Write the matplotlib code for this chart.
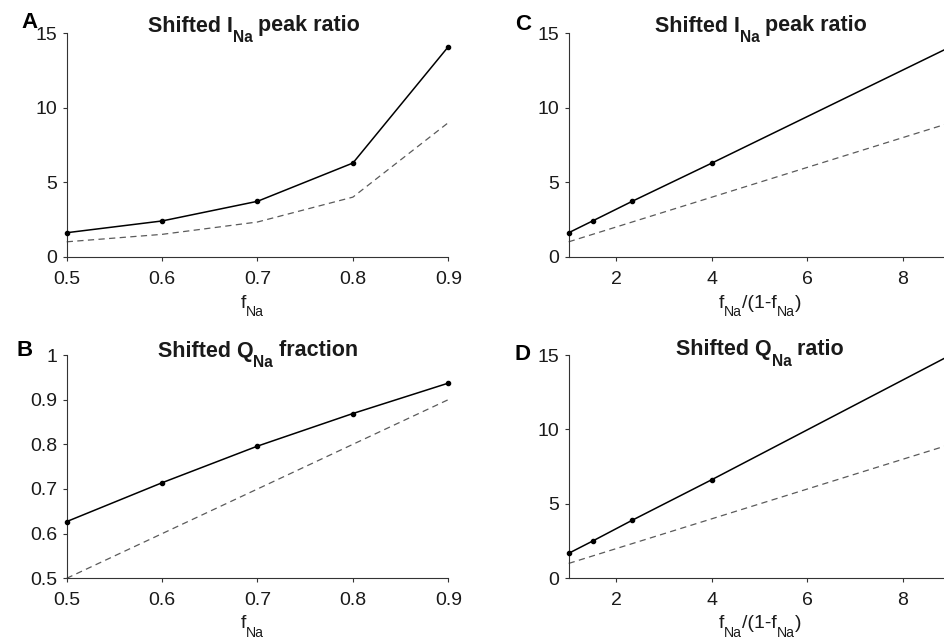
import numpy as np
import matplotlib
matplotlib.use('Agg')
from matplotlib import pyplot as plt
from matplotlib.ticker import FuncFormatter


plt.rcParams['font.family'] = ['Liberation Sans', 'DejaVu Sans']


# values
f_na = [0.5, 0.6, 0.7, 0.8, 0.9]
f_ratio = [1.0, 1.5, 2.33, 4.0, 9.0]            # f_Na/(1-f_Na)
ina_peak_ratio = [1.61, 2.40, 3.72, 6.29, 14.10]
qna_fraction = [0.627, 0.714, 0.796, 0.869, 0.937]
qna_ratio = [1.68, 2.50, 3.90, 6.63, 15.0]

ticks_f = [0.5, 0.6, 0.7, 0.8, 0.9]
ticks_ratio = [2, 4, 6, 8]
ticks_big = [0, 5, 10, 15]
ticks_frac = [0.5, 0.6, 0.7, 0.8, 0.9, 1.0]


W, H = 945, 643
TXT = '#1a1a1a'


def px_box(l, t, r, b):
    return [l / W, 1 - b / H, (r - l) / W, (b - t) / H]


def rich_text(fig, xc, yb, parts, size, drop, weight='normal'):
    # draw text with MATLAB-like subscripts, centered on xc (pixels), baseline yb
    rend = fig.canvas.get_renderer()
    objs = []
    for s, sub in parts:
        fs = size * 0.72 if sub else size
        t = fig.text(0, 0, s, fontsize=fs, fontweight=weight, color=TXT,
                     ha='left', va='baseline')
        objs.append((t, sub))
    widths = [t.get_window_extent(rend).width for t, _ in objs]
    x = xc - sum(widths) / 2
    for (t, sub), w in zip(objs, widths):
        y = yb + (drop if sub else 0)
        t.set_position((x / W, 1 - y / H))
        x += w


def style_axes(ax):
    for s in ['top', 'right']:
        ax.spines[s].set_visible(False)
    for s in ['left', 'bottom']:
        ax.spines[s].set_color('#333333')
        ax.spines[s].set_linewidth(0.8)
    ax.tick_params(direction='out', length=3.2, width=0.8, labelsize=14,
                   color='#333333', labelcolor=TXT)
    ax.tick_params(axis='x', pad=7)
    ax.tick_params(axis='y', pad=3.5)
    ax.xaxis.set_major_formatter(FuncFormatter(lambda v, p: '%g' % v))
    ax.yaxis.set_major_formatter(FuncFormatter(lambda v, p: '%g' % v))


def plot_pair(ax, x, y, xref, yref):
    ax.plot(xref, yref, color='#5a5a5a', lw=0.9, dashes=(5, 3.5), clip_on=False)
    ax.plot(x, y, color='black', lw=1.1, marker='o', ms=3, clip_on=False, zorder=3)


fig = plt.figure(figsize=(W / 100, H / 100), dpi=100)

axA = fig.add_axes(px_box(66.7, 33.3, 448.3, 256.7))
axB = fig.add_axes(px_box(66.7, 355, 448.3, 578.3))
axC = fig.add_axes(px_box(568.7, 33.3, 950.7, 256.7))
axD = fig.add_axes(px_box(568.7, 355, 950.7, 578.3))

plot_pair(axA, f_na, ina_peak_ratio, f_na, f_ratio)
plot_pair(axB, f_na, qna_fraction, f_na, f_na)
plot_pair(axC, f_ratio, ina_peak_ratio, f_ratio, f_ratio)
plot_pair(axD, f_ratio, qna_ratio, f_ratio, f_ratio)

for ax in [axA, axB]:
    ax.set_xlim(0.5, 0.9)
    ax.set_xticks(ticks_f)
for ax in [axC, axD]:
    ax.set_xlim(1, 9)
    ax.set_xticks(ticks_ratio)
for ax in [axA, axC, axD]:
    ax.set_ylim(0, 15)
    ax.set_yticks(ticks_big)
axB.set_ylim(0.5, 1)
axB.set_yticks(ticks_frac)

for ax in [axA, axB, axC, axD]:
    style_axes(ax)

# titles
rich_text(fig, 254, 31.5, [('Shifted I', 0), ('Na', 1), (' peak ratio', 0)], 15.5, 10.5, 'bold')
rich_text(fig, 761, 31.5, [('Shifted I', 0), ('Na', 1), (' peak ratio', 0)], 15.5, 10.5, 'bold')
rich_text(fig, 258, 356.5, [('Shifted Q', 0), ('Na', 1), (' fraction', 0)], 15.5, 10.5, 'bold')
rich_text(fig, 760, 355.5, [('Shifted Q', 0), ('Na', 1), (' ratio', 0)], 15.5, 10.5, 'bold')

# axis labels
rich_text(fig, 252, 308, [('f', 0), ('Na', 1)], 14, 8.5)
rich_text(fig, 252, 628.5, [('f', 0), ('Na', 1)], 14, 8.5)
lab_ratio = [('f', 0), ('Na', 1), ('/(1-f', 0), ('Na', 1), (')', 0)]
rich_text(fig, 760, 308, lab_ratio, 14, 8.5)
rich_text(fig, 760, 628.5, lab_ratio, 14, 8.5)

# panel letters
for letter, x, y in [('A', 21, 27.5), ('B', 17, 356), ('C', 515, 30), ('D', 515, 360)]:
    fig.text(x / W, 1 - y / H, letter, fontsize=16, fontweight='bold', color='black',
             ha='left', va='baseline')

fig.savefig('out.png', dpi=100)
